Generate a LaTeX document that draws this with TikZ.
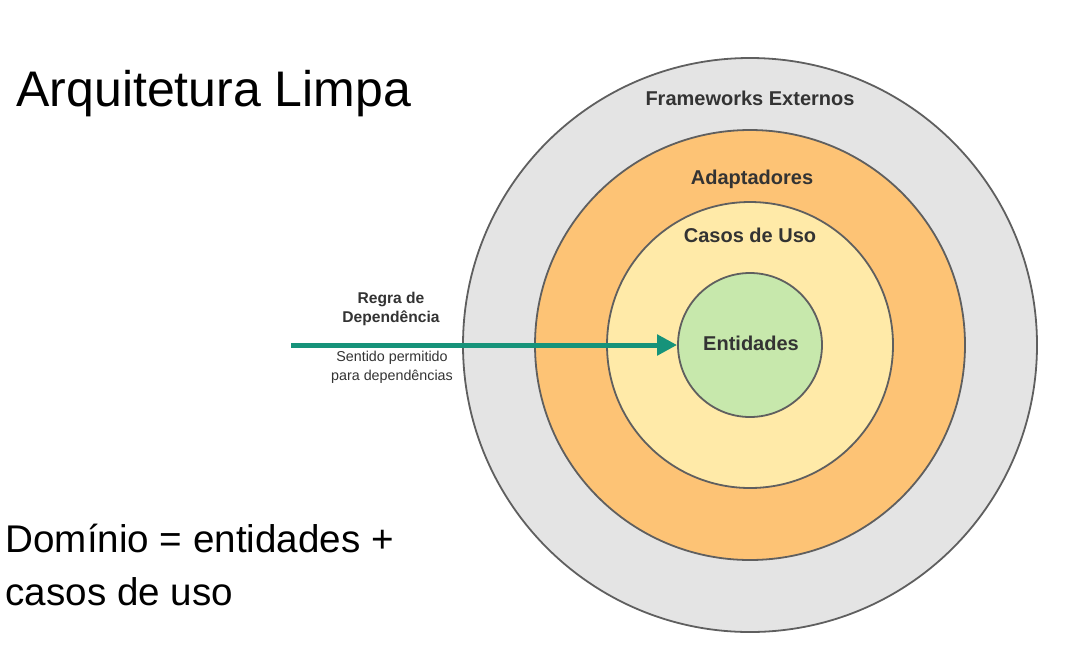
\documentclass[tikz,border=0pt]{standalone}
\usepackage{fontspec}
\setmainfont{Liberation Sans}
\usetikzlibrary{arrows.meta}
\definecolor{ringline}{RGB}{95,95,95}
\definecolor{outerfill}{RGB}{228,228,228}
\definecolor{adaptfill}{RGB}{253,195,117}
\definecolor{casosfill}{RGB}{255,234,168}
\definecolor{entfill}{RGB}{199,232,172}
\definecolor{teal}{RGB}{22,147,122}
\definecolor{labeltext}{RGB}{51,51,51}
\tikzset{
  ring/.style={circle, draw=ringline, line width=1.8pt, inner sep=0pt},
  ringlabel/.style={font=\bfseries\fontsize{20}{23}\selectfont, text=labeltext, anchor=base},
  bigtext/.style={font=\fontsize{50}{55}\selectfont, text=black, anchor=base west},
  domtext/.style={font=\fontsize{38.6}{46}\selectfont, text=black, anchor=base west},
  smallbold/.style={font=\bfseries\fontsize{15.6}{19}\selectfont, text=labeltext, align=center},
  smallreg/.style={font=\fontsize{14.3}{19}\selectfont, text=labeltext, align=center},
}
\begin{document}
\begin{tikzpicture}[x=1pt,y=-1pt]
\useasboundingbox (0,0) rectangle (1089,657);
\node[ring, fill=outerfill, minimum size=574pt] (outer) at (750,345) {};
\node[ring, fill=adaptfill, minimum size=430pt] (adapt) at (750,345) {};
\node[ring, fill=casosfill, minimum size=286pt] (casos) at (750,345) {};
\node[ring, fill=entfill, minimum size=144pt] (ent) at (750,345) {};
\node[ringlabel] (lfw) at (750,105) {Frameworks Externos};
\node[ringlabel] (lad) at (752,184) {Adaptadores};
\node[ringlabel] (lcu) at (750,242) {Casos de Uso};
\node[ringlabel] (len) at (751,350) {Entidades};
\coordinate (astart) at (291,345);
\draw[teal, line width=5pt, -{Triangle[length=20pt,width=20pt]}] (astart) -- (ent.west);
\node[smallbold] (regra) at (391,309) {Regra de\\Dependência};
\node[smallreg] (sentido) at (392,367) {Sentido permitido\\para dependências};
\node[bigtext] (title) at (13,106) {Arquitetura Limpa};
\node[domtext] (dom1) at (2,552) {Domínio = entidades +};
\node[domtext] (dom2) at (2,605) {casos de uso};
\end{tikzpicture}
\end{document}
